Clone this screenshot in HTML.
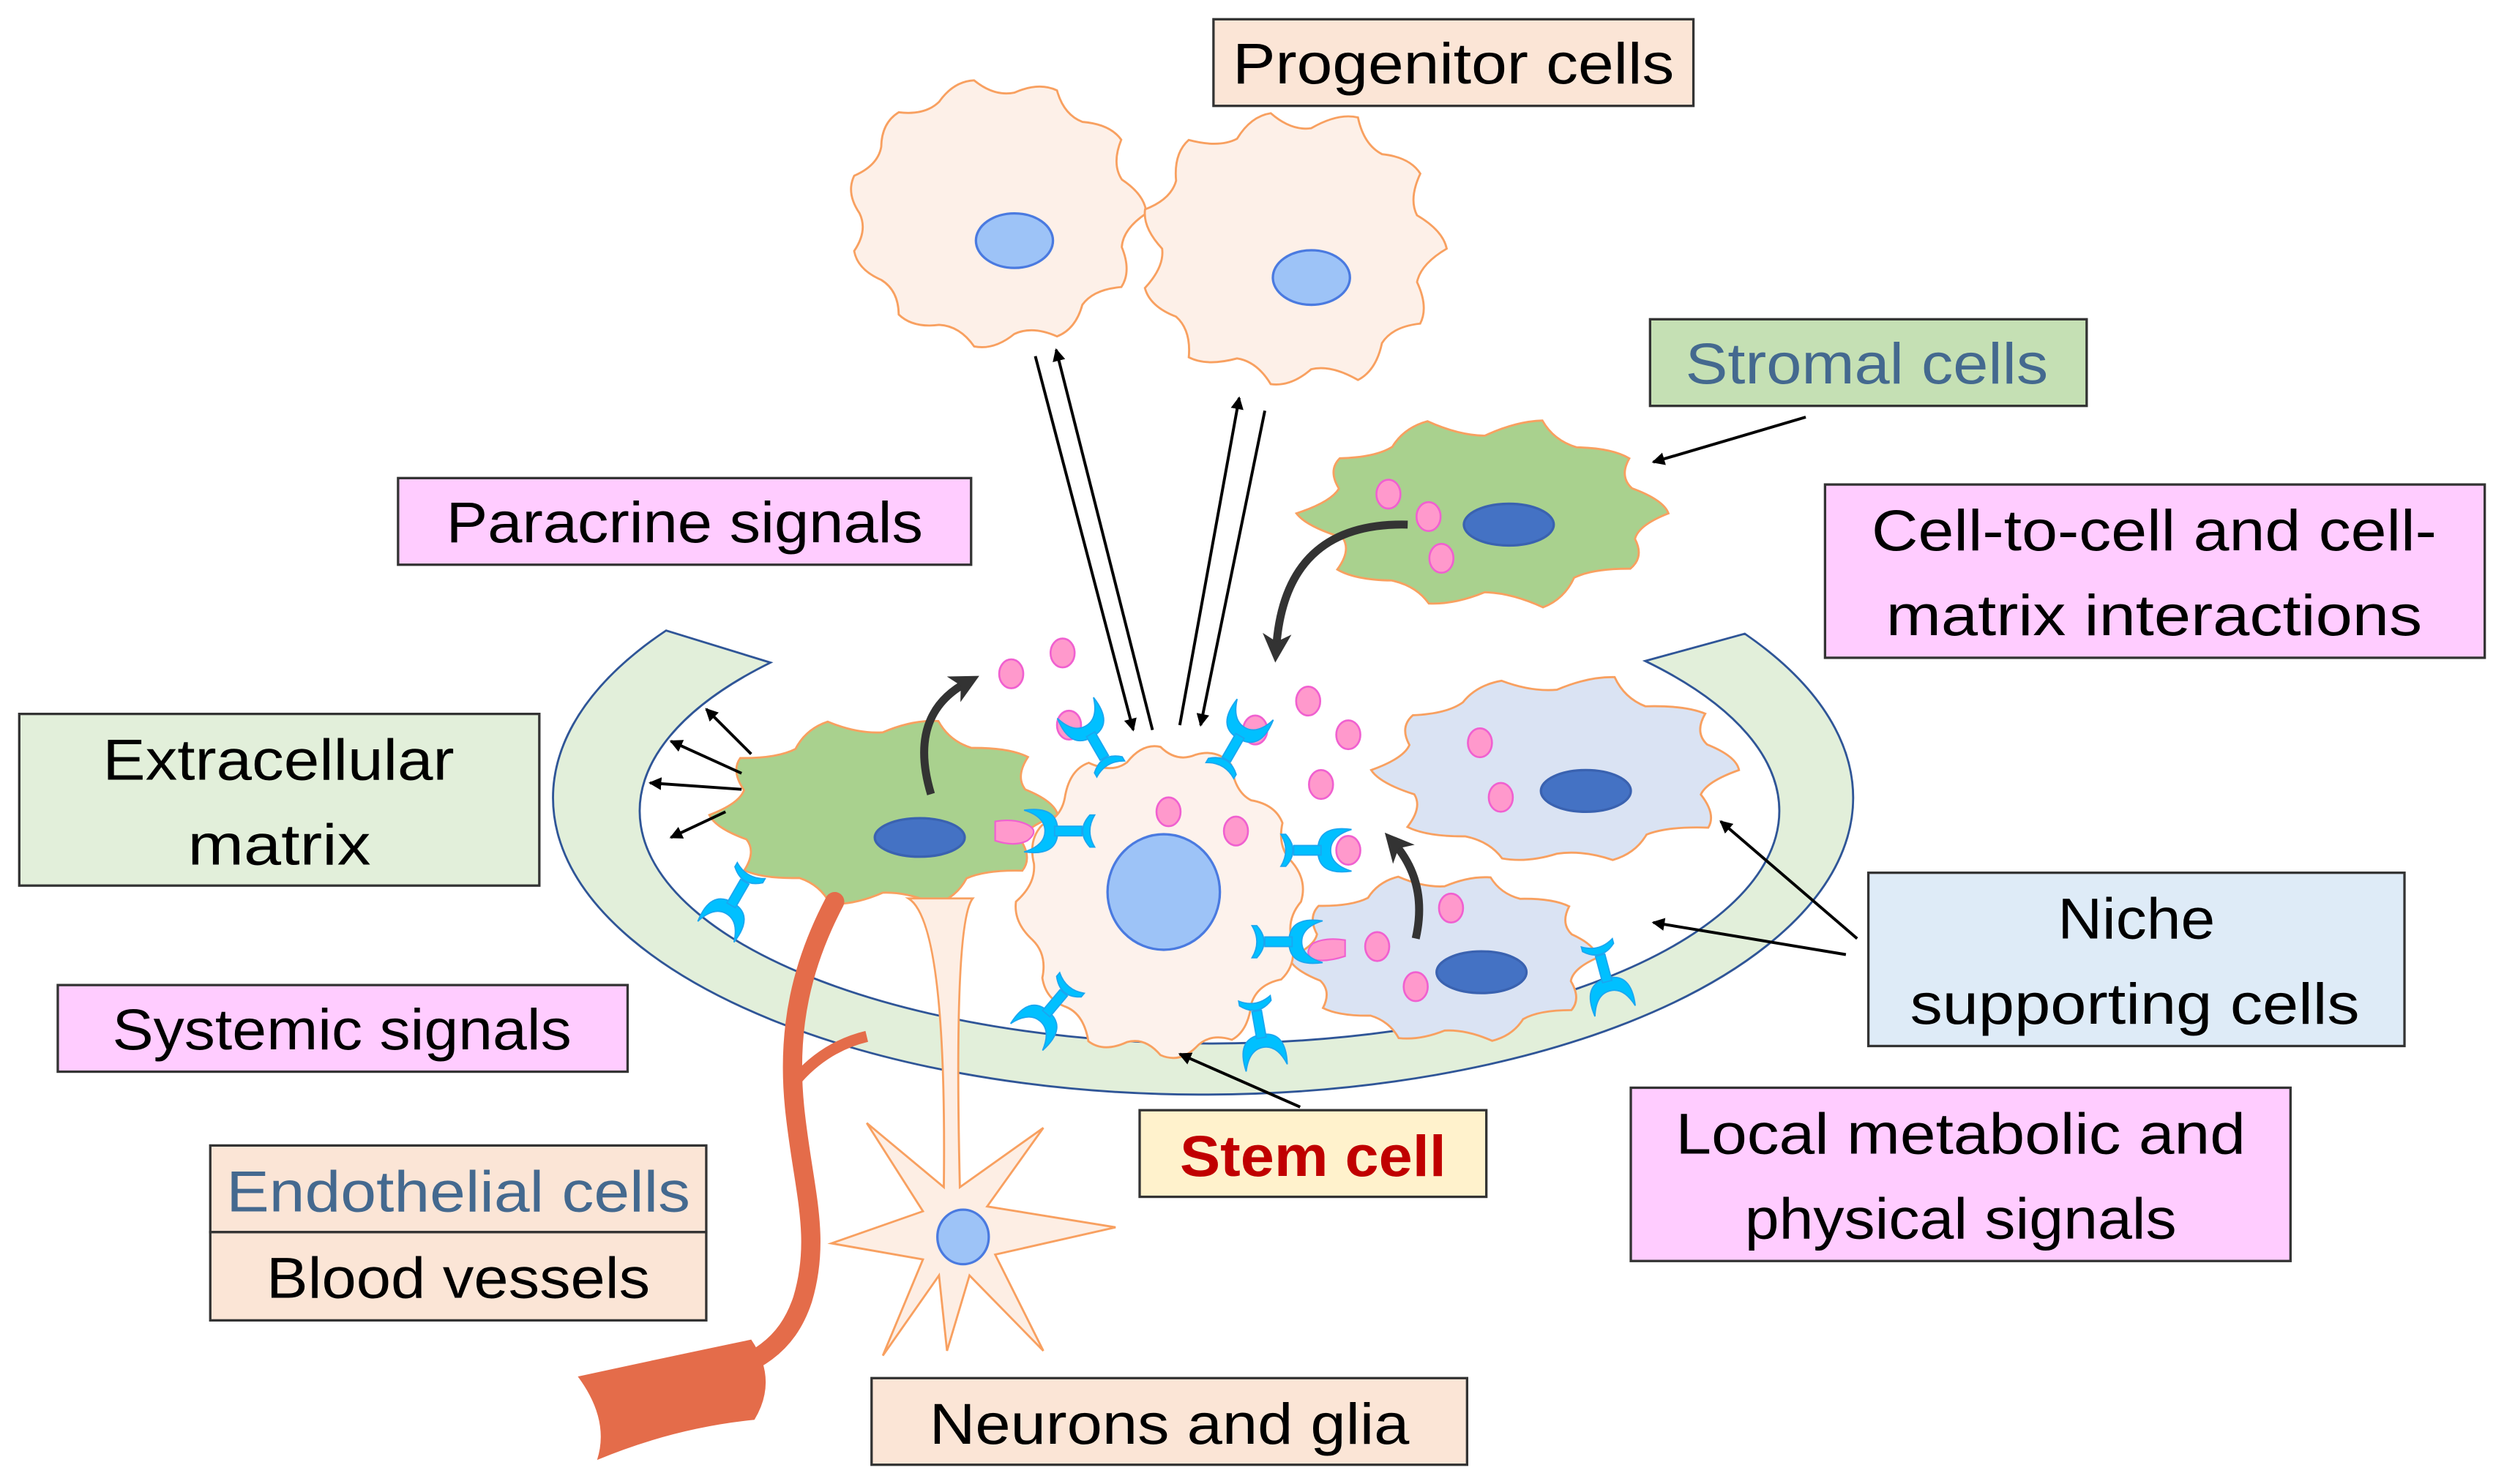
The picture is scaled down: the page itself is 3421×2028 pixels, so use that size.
<!DOCTYPE html>
<html><head><meta charset="utf-8"><style>html,body{margin:0;padding:0;background:#fff}svg{display:block}</style></head>
<body>
<svg id="s" width="3421" height="2028" viewBox="0 0 1560 925" preserveAspectRatio="none" xmlns="http://www.w3.org/2000/svg" font-family="Liberation Sans, sans-serif">
<defs>
<marker id="ah" markerWidth="8" markerHeight="8" refX="7" refY="4" orient="auto" markerUnits="userSpaceOnUse"><path d="M0,0 L8,4 L0,8 Z" fill="#000"/></marker>
<marker id="ah2" markerWidth="18" markerHeight="18" refX="10" refY="9" orient="auto" markerUnits="userSpaceOnUse"><path d="M0,0 L18,9 L0,18 L5,9 Z" fill="#333"/></marker>
<g id="rec" fill="#00c0ff" stroke="#1aa6f0" stroke-width="0.8">
<path d="M-13,-24 Q-16,-3 0,-3 Q16,-3 13,-24 Q9,-11 0,-11 Q-9,-11 -13,-24Z"/>
<rect x="-3" y="-5" width="6" height="17"/>
<path d="M-10,17 Q0,8 10,17 L10,20 Q0,14 -10,20Z"/>
</g>
</defs>
<path d="M415,393 A405,185 0 1,0 1087,395 L1025,412 A355,145 0 1,1 480,413 Z" fill="#e2efda" stroke="#2f5597" stroke-width="1.3"/>
<g id="cells"></g>
<path d="M520,562 C500,600 490,640 495,690 C500,740 512,770 500,810 C490,840 470,850 440,860" fill="none" stroke="#e46c4a" stroke-width="12" stroke-linecap="round"/>
<path d="M540,646 Q515,652 497,672" fill="none" stroke="#e46c4a" stroke-width="7"/>
<path d="M360,858 Q420,845 468,835 Q485,860 470,885 Q420,890 372,910 Q380,885 360,858Z" fill="#e46c4a"/>
<path d="M566,560 L606,560 Q594,575 598,740 L650,703 L615,752 L695,765 L620,782 L650,842 L604,795 L590,842 L585,795 L550,845 L575,785 L518,775 L575,755 L540,700 L588,740 Q590,575 566,560 Z" fill="#fdeee4" stroke="#f8a060" stroke-width="1.3"/>
<ellipse cx="600" cy="771" rx="16" ry="17" fill="#9dc3f7" stroke="#4a7ae0" stroke-width="1.5"/>
<g stroke="#000" stroke-width="1.8" fill="none">
<line x1="645" y1="222" x2="706" y2="455" marker-end="url(#ah)"/>
<line x1="718" y1="455" x2="658" y2="218" marker-end="url(#ah)"/>
<line x1="735" y1="452" x2="772" y2="248" marker-end="url(#ah)"/>
<line x1="788" y1="256" x2="748" y2="452" marker-end="url(#ah)"/>
<line x1="468" y1="470" x2="440" y2="442" marker-end="url(#ah)"/>
<line x1="462" y1="482" x2="418" y2="462" marker-end="url(#ah)"/>
<line x1="462" y1="492" x2="405" y2="488" marker-end="url(#ah)"/>
<line x1="452" y1="506" x2="418" y2="522" marker-end="url(#ah)"/>
<line x1="1125" y1="260" x2="1030" y2="288" marker-end="url(#ah)"/>
<line x1="1157" y1="585" x2="1072" y2="512" marker-end="url(#ah)"/>
<line x1="1150" y1="595" x2="1030" y2="575" marker-end="url(#ah)"/>
<line x1="810" y1="690" x2="735" y2="657" marker-end="url(#ah)"/>
</g>
<g stroke="#333" stroke-width="5" fill="none">
<path d="M877,327 Q800,325 795,405" marker-end="url(#ah2)"/>
<path d="M580,495 Q565,445 603,425" marker-end="url(#ah2)"/>
<path d="M882,585 Q890,550 868,525" marker-end="url(#ah2)"/>
</g>
<g font-size="36" stroke="#333" stroke-width="1.5">
<rect x="756" y="12" width="299" height="54" fill="#fbe5d6"/>
<rect x="1028" y="199" width="272" height="54" fill="#c5e0b4"/>
<rect x="248" y="298" width="357" height="54" fill="#ffccff"/>
<rect x="1137" y="302" width="411" height="108" fill="#ffccff"/>
<rect x="12" y="445" width="324" height="107" fill="#e2efda"/>
<rect x="1164" y="544" width="334" height="108" fill="#deebf7"/>
<rect x="36" y="614" width="355" height="54" fill="#ffccff"/>
<rect x="131" y="714" width="309" height="54" fill="#fbe5d6"/>
<rect x="131" y="768" width="309" height="55" fill="#fbe5d6"/>
<rect x="710" y="692" width="216" height="54" fill="#fff2cc"/>
<rect x="1016" y="678" width="411" height="108" fill="#ffccff"/>
<rect x="543" y="859" width="371" height="54" fill="#fbe5d6"/>
</g>
<g font-size="36" fill="#000">
<text x="768" y="52" textLength="275" lengthAdjust="spacingAndGlyphs">Progenitor cells</text>
<text x="1050" y="239" textLength="226" lengthAdjust="spacingAndGlyphs" fill="#44698f">Stromal cells</text>
<text x="278" y="338" textLength="297" lengthAdjust="spacingAndGlyphs">Paracrine signals</text>
<text x="1166" y="343" textLength="352" lengthAdjust="spacingAndGlyphs">Cell-to-cell and cell-</text>
<text x="1175" y="396" textLength="334" lengthAdjust="spacingAndGlyphs">matrix interactions</text>
<text x="64" y="486" textLength="219" lengthAdjust="spacingAndGlyphs">Extracellular</text>
<text x="117" y="539" textLength="114" lengthAdjust="spacingAndGlyphs">matrix</text>
<text x="1282" y="585" textLength="98" lengthAdjust="spacingAndGlyphs">Niche</text>
<text x="1190" y="638" textLength="280" lengthAdjust="spacingAndGlyphs">supporting cells</text>
<text x="70" y="654" textLength="286" lengthAdjust="spacingAndGlyphs">Systemic signals</text>
<text x="141" y="755" textLength="289" lengthAdjust="spacingAndGlyphs" fill="#44698f">Endothelial cells</text>
<text x="166" y="809" textLength="239" lengthAdjust="spacingAndGlyphs">Blood vessels</text>
<text x="735" y="733" textLength="166" lengthAdjust="spacingAndGlyphs" fill="#c00000" font-weight="bold">Stem cell</text>
<text x="1044" y="719" textLength="355" lengthAdjust="spacingAndGlyphs">Local metabolic and</text>
<text x="1087" y="772" textLength="269" lengthAdjust="spacingAndGlyphs">physical signals</text>
<text x="579" y="900" textLength="299" lengthAdjust="spacingAndGlyphs">Neurons and glia</text>
</g>
</svg>
<script>
var NS="http://www.w3.org/2000/svg",g=document.getElementById('cells');
function el(t,a){var e=document.createElementNS(NS,t);for(var k in a)e.setAttribute(k,a[k]);g.appendChild(e);return e;}
function blob(cx,cy,rx,ry,n,amp,fill,seed){
 var d="",pts=[];
 for(var i=0;i<n;i++){var a=i/n*2*Math.PI;var r=1+amp*(i%2?-1:1)+0.03*Math.sin(i*seed);pts.push([cx+rx*r*Math.cos(a),cy+ry*r*Math.sin(a)]);}
 d="M"+pts[0].join(",");
 for(var i=1;i<=n;i++){var p=pts[i%n],q=pts[i-1];var mx=(p[0]+q[0])/2,my=(p[1]+q[1])/2;var c=i%2?[mx+(cx-mx)*0.08,my+(cy-my)*0.08]:[mx-(cx-mx)*0.08,my-(cy-my)*0.08];d+=" Q"+c.join(",")+" "+p.join(",");}
 el('path',{d:d+"Z",fill:fill,stroke:"#f8a060","stroke-width":1.3});
}
function dot(x,y){el('ellipse',{cx:x,cy:y,rx:7.5,ry:9,fill:"#ff99cc",stroke:"#f060d0","stroke-width":1.2});}
function nuc(x,y,rx,ry,f,s){el('ellipse',{cx:x,cy:y,rx:rx,ry:ry,fill:f,stroke:s,"stroke-width":1.5});}
function rec(x,y,r){el('use',{href:"#rec",transform:"translate("+x+","+y+") rotate("+r+")"});}
blob(620,133,88,80,22,0.07,"#fdf0e8",3);nuc(632,150,24,17,"#9dc3f7","#4a7ae0");
blob(805,155,90,82,22,0.07,"#fdf0e8",5);nuc(817,173,24,17,"#9dc3f7","#4a7ae0");
blob(925,320,105,55,20,0.09,"#a9d18e",2);nuc(940,327,28,13,"#4472c4","#3a62b0");dot(865,308);dot(890,322);dot(898,348);
blob(970,480,105,55,20,0.08,"#dae3f3",4);nuc(988,493,28,13,"#4472c4","#3a62b0");dot(922,463);dot(935,497);
blob(550,508,100,55,20,0.09,"#a9d18e",6);nuc(573,522,28,12,"#4472c4","#3a62b0");
blob(900,597,88,50,20,0.08,"#dae3f3",7);nuc(923,606,28,13,"#4472c4","#3a62b0");dot(904,566);dot(858,590);dot(882,615);
blob(723,562,85,95,24,0.03,"#fdf2ec",8);
nuc(725,556,35,36,"#9dc3f7","#4a7ae0");
[[630,420],[662,407],[815,437],[840,458],[823,489],[728,506],[770,518],[666,452],[782,455],[840,530]].forEach(function(p){dot(p[0],p[1]);});
el('path',{d:"M620,512 Q632,510 640,514 Q648,518 640,524 Q632,528 620,524 Z",fill:"#ff99cc",stroke:"#f060d0","stroke-width":1});
el('path',{d:"M838,586 Q826,584 818,588 Q812,594 818,598 Q826,600 838,596 Z",fill:"#ff99cc",stroke:"#f060d0","stroke-width":1});
rec(682,462,-30);rec(770,463,30);rec(662,518,-90);rec(818,530,90);rec(800,587,90);rec(655,628,-140);rec(785,642,170);rec(458,560,-150);rec(1000,607,165);
</script>
</body></html>
